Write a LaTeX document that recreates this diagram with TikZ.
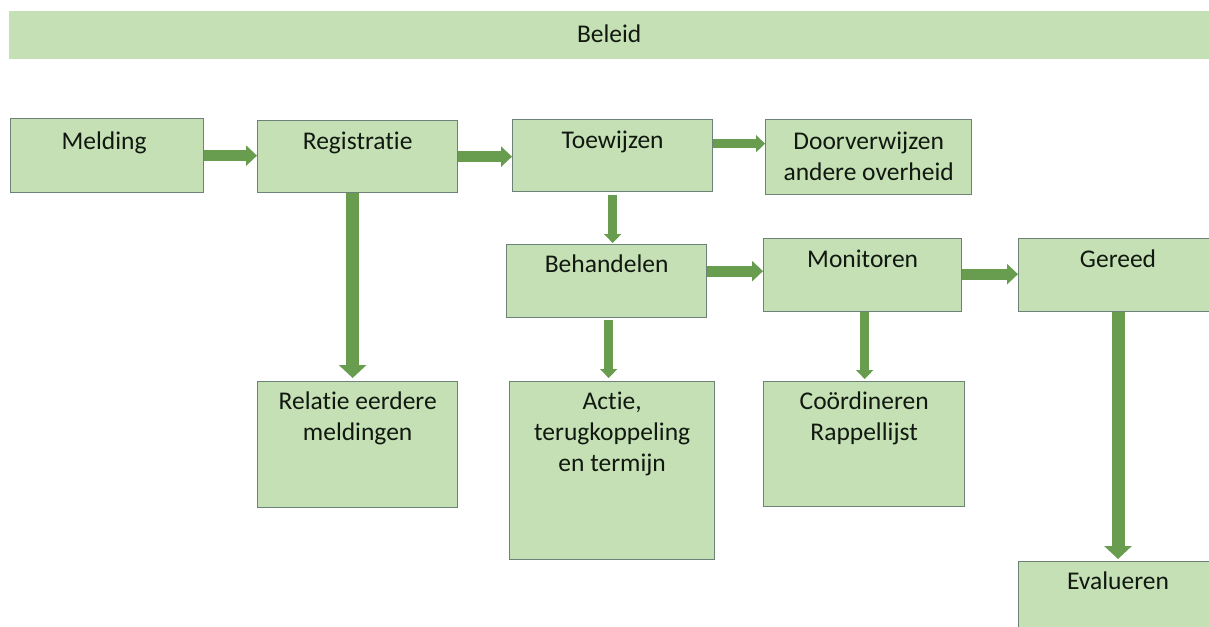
\documentclass[tikz,border=0pt]{standalone}
\usepackage{fontspec}
\setmainfont{Carlito}[Ligatures={NoCommon}]
\usetikzlibrary{arrows.meta,calc}
\definecolor{boxfill}{RGB}{197,224,180}
\definecolor{boxline}{RGB}{108,130,118}
\definecolor{arrowgreen}{RGB}{104,156,78}
\definecolor{txt}{RGB}{16,24,16}
\tikzset{
  box/.style={draw=boxline, fill=boxfill, line width=1.3pt, anchor=north west, inner sep=0pt, rectangle},
  lbl/.style={anchor=north, inner sep=0pt, align=center, text=txt, font=\fontsize{25.5}{31}\selectfont},
  arrS/.style={draw=arrowgreen, line width=9pt, -{Triangle[width=17pt,length=9pt]}},
  arrM/.style={draw=arrowgreen, line width=11pt, -{Triangle[width=20pt,length=11pt]}},
  arrL/.style={draw=arrowgreen, line width=13pt, -{Triangle[width=27pt,length=13pt]}}
}
\begin{document}
\begin{tikzpicture}[x=1pt,y=1pt]
\useasboundingbox (0,0) rectangle (1209,-626);
\clip (0,0) rectangle (1209,-626);
% banner
\node[fill=boxfill, anchor=north west, inner sep=0pt, minimum width=1210pt, minimum height=48pt] (banner) at (9,-11) {};
\node[lbl] (tbanner) at ($(banner.north)+(-5,-10)$) {\strut Beleid};
% boxes
\node[box, minimum width=193pt, minimum height=74pt] (melding) at (10,-118) {};
\node[box, minimum width=200pt, minimum height=72pt] (registratie) at (257,-120) {};
\node[box, minimum width=200pt, minimum height=72pt] (toewijzen) at (512,-119) {};
\node[box, minimum width=206pt, minimum height=75pt] (doorverwijzen) at (765,-119) {};
\node[box, minimum width=200pt, minimum height=73pt] (behandelen) at (506,-244) {};
\node[box, minimum width=198pt, minimum height=73pt] (monitoren) at (763,-238) {};
\node[box, minimum width=212pt, minimum height=73pt] (gereed) at (1018,-238) {};
\node[box, minimum width=200pt, minimum height=126pt] (relatie) at (257,-381) {};
\node[box, minimum width=205pt, minimum height=178pt] (actie) at (509,-381) {};
\node[box, minimum width=201pt, minimum height=125pt] (coordineren) at (763,-381) {};
\node[box, minimum width=212pt, minimum height=90pt] (evalueren) at (1018,-561) {};
% labels
\node[lbl] (tmelding) at ($(melding.north)+(-3,-10)$) {\strut Melding};
\node[lbl] (tregistratie) at ($(registratie.north)+(0,-8)$) {\strut Registratie};
\node[lbl] (ttoewijzen) at ($(toewijzen.north)+(0,-8)$) {\strut Toewijzen};
\node[lbl] (tdoorverwijzen) at ($(doorverwijzen.north)+(0,-9)$) {\strut Doorverwijzen\\andere overheid};
\node[lbl] (tbehandelen) at ($(behandelen.north)+(0,-7)$) {\strut Behandelen};
\node[lbl] (tmonitoren) at ($(monitoren.north)+(0,-8)$) {\strut Monitoren};
\node[lbl] (tgereed) at ($(gereed.north west)+(100,-8)$) {\strut Gereed};
\node[lbl] (trelatie) at ($(relatie.north)+(0,-7)$) {\strut Relatie eerdere\\meldingen};
\node[lbl] (tactie) at ($(actie.north)+(0,-7)$) {\strut Actie,\\terugkoppeling\\en termijn};
\node[lbl] (tcoordineren) at ($(coordineren.north)+(0,-7)$) {\strut Coördineren\\Rappellijst};
\node[lbl] (tevalueren) at ($(evalueren.north west)+(100,-7)$) {\strut Evalueren};
% connectors
\draw[arrM] (melding.east) -- (melding.east -| registratie.west);
\draw[arrM] (registratie.east) -- (registratie.east -| toewijzen.west);
\draw[arrS] ([yshift=12pt]toewijzen.east) -- ([yshift=12pt]toewijzen.east -| doorverwijzen.west);
\draw[arrS] ([yshift=-3pt]toewijzen.south) -- ([yshift=1pt]toewijzen.south |- behandelen.north);
\draw[arrM] ([yshift=10pt]behandelen.east) -- ([yshift=10pt]behandelen.east -| monitoren.west);
\draw[arrM] ([yshift=1pt]monitoren.east) -- ([yshift=1pt]monitoren.east -| gereed.west);
\draw[arrL] ([xshift=-5pt]registratie.south) -- ([xshift=-5pt,yshift=3pt]registratie.south |- relatie.north);
\draw[arrS] ([xshift=2pt,yshift=-2pt]behandelen.south) -- ([xshift=2pt,yshift=3pt]behandelen.south |- actie.north);
\draw[arrS] ([xshift=2pt]monitoren.south) -- ([xshift=2pt,yshift=2pt]monitoren.south |- coordineren.north);
\draw[arrL] ([xshift=100pt]gereed.south west) -- ([xshift=100pt,yshift=2pt]gereed.south west |- evalueren.north);
\end{tikzpicture}
\end{document}
